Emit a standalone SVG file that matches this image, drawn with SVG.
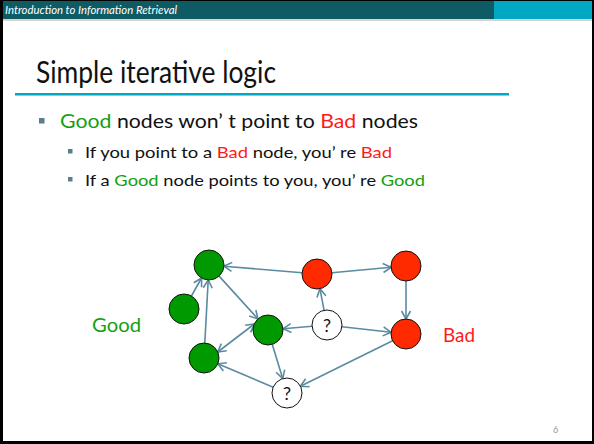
<svg xmlns="http://www.w3.org/2000/svg" width="594" height="444" viewBox="0 0 594 444">
<defs>
<style>
.hdr{font-family:Lato,"Liberation Sans",Arial,sans-serif;font-style:italic;font-size:11.5px;fill:#ffffff}
.t{font-family:Lato,"Liberation Sans",Arial,sans-serif;fill:#111111}
.g{fill:#12a012}
.r{fill:#ff1a1a}
.edge{stroke:#5b8ba0;stroke-width:1.6;fill:none;marker-end:url(#ah)}
.both{marker-start:url(#ahs)}
.gn{fill:#009a00;stroke:#111;stroke-width:1}
.rn{fill:#ff2a00;stroke:#111;stroke-width:1}
.qn{fill:#ffffff;stroke:#111;stroke-width:1}
.q{font-family:Lato,"Liberation Sans",Arial,sans-serif;font-size:18px;fill:#111;text-anchor:middle}
.bm{fill:#5a7f8c}
</style>
<marker id="ah" markerUnits="userSpaceOnUse" markerWidth="12" markerHeight="12" refX="0" refY="0" viewBox="-10 -6 11 12" orient="auto">
<path d="M-8,-4.5 L0,0 L-8,4.5" fill="none" stroke="#5b8ba0" stroke-width="1.6"/>
</marker>
<marker id="ahs" markerUnits="userSpaceOnUse" markerWidth="12" markerHeight="12" refX="0" refY="0" viewBox="-1 -6 11 12" orient="auto">
<path d="M8,-4.5 L0,0 L8,4.5" fill="none" stroke="#5b8ba0" stroke-width="1.6"/>
</marker>
</defs>
<rect x="0" y="0" width="594" height="444" fill="#000"/>
<rect x="3" y="1" width="589" height="440" fill="#fff"/>
<rect x="3" y="1" width="491" height="18" fill="#0e5b64"/>
<rect x="494" y="1" width="98" height="18" fill="#00a8c4"/>
<rect x="3" y="19" width="589" height="2" fill="#d4d4d4"/>
<text class="hdr" x="5" y="14" textLength="172" lengthAdjust="spacingAndGlyphs">Introduction to Information Retrieval</text>
<text class="t" x="36" y="83" font-size="30" textLength="240" lengthAdjust="spacingAndGlyphs">Simple iterative logic</text>
<rect x="15" y="93" width="494" height="2.5" fill="#00a8c4"/>
<rect class="bm" x="39" y="118" width="5.5" height="5.5"/>
<text class="t" x="60" y="128" font-size="20" textLength="358" lengthAdjust="spacingAndGlyphs"><tspan class="g">Good</tspan> nodes won’ t point to <tspan class="r">Bad</tspan> nodes</text>
<rect class="bm" x="68" y="149" width="4.5" height="4.5"/>
<text class="t" x="85" y="158" font-size="16" textLength="307" lengthAdjust="spacingAndGlyphs">If you point to a <tspan class="r">Bad</tspan> node, you’ re <tspan class="r">Bad</tspan></text>
<rect class="bm" x="68" y="177" width="4.5" height="4.5"/>
<text class="t" x="85" y="186" font-size="16" textLength="340" lengthAdjust="spacingAndGlyphs">If a <tspan class="g">Good</tspan> node points to you, you’ re <tspan class="g">Good</tspan></text>
<g id="connectors">
<line class="edge" x1="191.4" y1="296" x2="201.6" y2="278"/>
<line class="edge" x1="204.8" y1="343" x2="208.2" y2="280"/>
<line class="edge" x1="302.1" y1="272.8" x2="223.9" y2="266.2"/>
<line class="edge" x1="331.9" y1="272.7" x2="391.1" y2="267.3"/>
<line class="edge" x1="406" y1="281" x2="406" y2="319"/>
<line class="edge" x1="219.1" y1="276.1" x2="257.9" y2="318.9"/>
<line class="edge" x1="312.1" y1="326.3" x2="283.1" y2="328.7"/>
<line class="edge" x1="324.1" y1="310.3" x2="319.9" y2="288.7"/>
<line class="edge" x1="341.9" y1="326.7" x2="391.1" y2="332.3"/>
<line class="edge both" x1="217.7" y1="352" x2="254.3" y2="324"/>
<line class="edge" x1="272.3" y1="344.4" x2="282.7" y2="378.6"/>
<line class="edge" x1="273.2" y1="387.2" x2="217.8" y2="363.8"/>
<line class="edge" x1="392.6" y1="340.7" x2="300.4" y2="386.3"/>
</g>
<g id="n-g1"><circle class="gn" cx="209" cy="265" r="15"/></g>
<g id="n-g2"><circle class="gn" cx="184" cy="309" r="15"/></g>
<g id="n-g3"><circle class="gn" cx="268" cy="330" r="15"/></g>
<g id="n-g4"><circle class="gn" cx="204" cy="358" r="15"/></g>
<g id="n-r1"><circle class="rn" cx="317" cy="274" r="15"/></g>
<g id="n-r2"><circle class="rn" cx="406" cy="266" r="15"/></g>
<g id="n-r3"><circle class="rn" cx="406" cy="334" r="15"/></g>
<g id="n-q1"><circle class="qn" cx="327" cy="325" r="15"/><text class="q" x="327" y="331.5">?</text></g>
<g id="n-q2"><circle class="qn" cx="287" cy="393" r="15"/><text class="q" x="287" y="399.5">?</text></g>
<text class="t g" x="92" y="332" font-size="20" textLength="49" lengthAdjust="spacingAndGlyphs">Good</text>
<text class="t r" x="443" y="342" font-size="20" textLength="32" lengthAdjust="spacingAndGlyphs">Bad</text>
<text x="553" y="433" font-family="Lato,Liberation Sans,Arial,sans-serif" font-size="9" fill="#999">6</text>
</svg>
